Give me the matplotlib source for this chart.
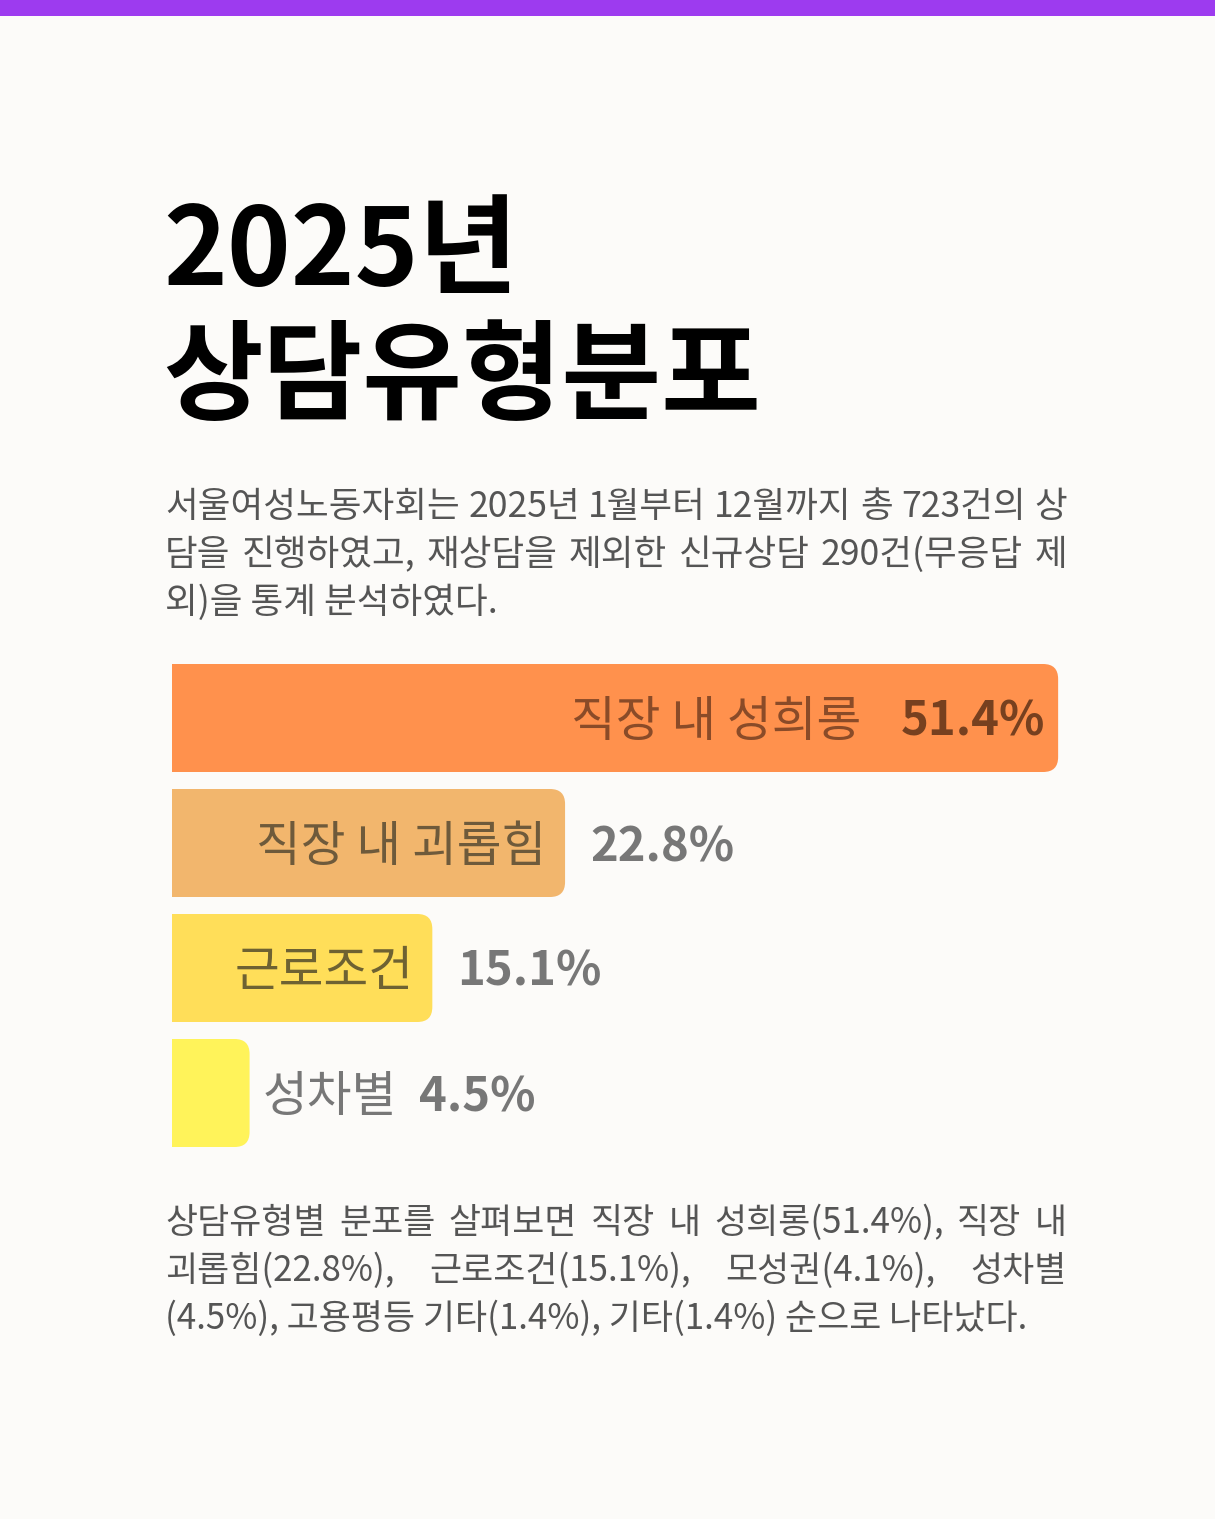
import matplotlib
matplotlib.use("Agg")
import matplotlib.pyplot as plt
from matplotlib.patches import FancyBboxPatch, Rectangle

plt.rcParams['font.family'] = ['Noto Sans CJK KR', 'DejaVu Sans']

# ---- data ----
title_lines = ['2025년', '상담유형분포']
intro_lines = ['서울여성노동자회는 2025년 1월부터 12월까지 총 723건의 상',
               '담을 진행하였고, 재상담을 제외한 신규상담 290건(무응답 제',
               '외)을 통계 분석하였다.']
summary_lines = ['상담유형별 분포를 살펴보면 직장 내 성희롱(51.4%), 직장 내',
                 '괴롭힘(22.8%), 근로조건(15.1%), 모성권(4.1%), 성차별',
                 '(4.5%), 고용평등 기타(1.4%), 기타(1.4%) 순으로 나타났다.']
categories = ['직장 내 성희롱', '직장 내 괴롭힘', '근로조건', '성차별']
values = [51.4, 22.8, 15.1, 4.5]

# ---- styles ----
bar_colors = ['#FF914D', '#F2B66D', '#FFDE59', '#FFF35A']
inside_label_colors = ['#8A4B28', '#6E5A3B', '#6E6232', '#6E6232']
W, H = 1215, 1519
BG = '#FCFBF9'

fig = plt.figure(figsize=(W / 100, H / 100), dpi=100, facecolor=BG)
ax = fig.add_axes([0, 0, 1, 1])
ax.set_xlim(0, W)
ax.set_ylim(H, 0)
ax.axis('off')
ax.set_facecolor(BG)

# top band
ax.add_patch(Rectangle((0, 0), W, 16, color='#9D3BEF', lw=0))

# title
ax.text(163, 285, title_lines[0], fontsize=78, fontweight='black', color='#000000',
        ha='left', va='baseline')
ax.text(163, 411, title_lines[1], fontsize=78, fontweight='black', color='#000000',
        ha='left', va='baseline')

renderer = fig.canvas.get_renderer()


def paragraph(lines, x0, x1, baselines, size, color):
    for li, (line, yb) in enumerate(zip(lines, baselines)):
        words = line.split(' ')
        last = li == len(lines) - 1
        if last:
            ax.text(x0, yb, line, fontsize=size, color=color, ha='left', va='baseline')
            continue
        texts = [ax.text(x0, yb, w, fontsize=size, color=color, ha='left', va='baseline')
                 for w in words]
        widths = [t.get_window_extent(renderer).width for t in texts]
        gap = (x1 - x0 - sum(widths)) / (len(words) - 1)
        x = x0
        for t, w in zip(texts, widths):
            t.set_x(x)
            x += w + gap


paragraph(intro_lines, 165, 1067, [517, 565, 613], 25.6, '#555555')
paragraph(summary_lines, 165, 1067, [1233, 1281, 1329], 25.1, '#555555')

# ---- bar chart ----
px_per_unit = 17.24
bx0, bx1 = 172, 1100
by_top, by_bot = 655.5, 1155.5
ax2 = fig.add_axes([bx0 / W, 1 - by_bot / H, (bx1 - bx0) / W, (by_bot - by_top) / H])
ax2.set_xlim(0, (bx1 - bx0) / px_per_unit)
n = len(values)
ax2.set_ylim(n - 0.5, -0.5)
ax2.axis('off')
row_px = (by_bot - by_top) / n
bar_h = 108 / row_px
r_px = 15
r_x = r_px / px_per_unit
aspect = px_per_unit / row_px
dy = -4
LFS = 35

for i, (cat, v, c) in enumerate(zip(categories, values, bar_colors)):
    ax2.add_patch(FancyBboxPatch((0, i - bar_h / 2), v, bar_h,
                                 boxstyle=f"round,pad=0,rounding_size={r_x}",
                                 mutation_aspect=aspect, fc=c, ec='none', lw=0))
    ax2.barh(i, v / 2, height=bar_h, left=0, color=c, lw=0)
    vlabel = f'{v}%'
    if v > 40:
        vt = ax2.annotate(vlabel, xy=(v, i), xytext=(-13, dy), textcoords='offset pixels',
                          ha='right', va='center', fontsize=34, fontweight='bold',
                          color='#77401F')
        ax2.annotate(cat, xy=(0, 0.5), xycoords=vt, xytext=(-40, 0),
                     textcoords='offset pixels', ha='right', va='center',
                     fontsize=LFS, color=inside_label_colors[i])
    elif v > 10:
        ax2.annotate(cat, xy=(v, i), xytext=(-19, dy), textcoords='offset pixels',
                     ha='right', va='center', fontsize=LFS, color=inside_label_colors[i])
        ax2.annotate(vlabel, xy=(v, i), xytext=(25, dy), textcoords='offset pixels',
                     ha='left', va='center', fontsize=34, fontweight='bold', color='#777777')
    else:
        lt = ax2.annotate(cat, xy=(v, i), xytext=(13, dy), textcoords='offset pixels',
                          ha='left', va='center', fontsize=LFS, color='#777777')
        ax2.annotate(vlabel, xy=(1, 0.5), xycoords=lt, xytext=(22, 0),
                     textcoords='offset pixels', ha='left', va='center',
                     fontsize=34, fontweight='bold', color='#777777')

fig.savefig('out.png', dpi=100, facecolor=BG)
